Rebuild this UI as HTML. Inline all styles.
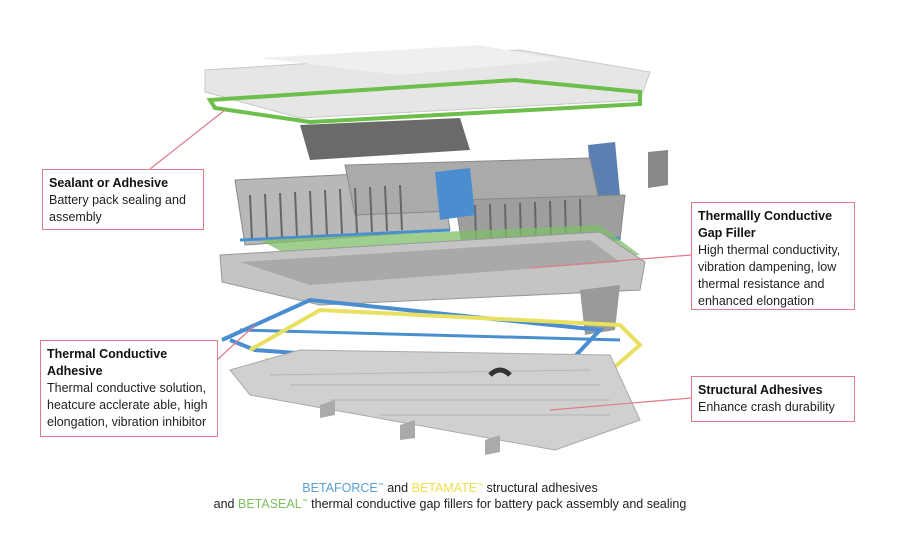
<!DOCTYPE html>
<html><head><meta charset="utf-8"><style>
body{margin:0;background:#fff;width:900px;height:550px;overflow:hidden;font-family:"Liberation Sans",sans-serif;}
.box{position:absolute;border:1.5px solid #e07a8c;background:#fff;padding:5px 6px;font-size:12.5px;line-height:17px;color:#222;box-sizing:border-box}
.box b{color:#111}
.cap{position:absolute;left:0;width:900px;text-align:center;font-size:12.5px;color:#222}
</style></head><body>
<svg width="900" height="550" style="position:absolute;left:0;top:0">
<!-- top cover -->
<polygon points="205,70 520,50 650,72 640,100 300,118 205,92" fill="#e6e6e6" stroke="#c8c8c8"/>
<polygon points="260,58 480,45 560,60 400,75" fill="#efefef"/>
<!-- green seal -->
<polygon points="210,100 515,80 640,92 640,104 310,122 215,108" fill="none" stroke="#6cbf4a" stroke-width="4"/>
<!-- BMS box -->
<polygon points="300,125 460,118 470,150 310,160" fill="#6a6a6a"/>
<polygon points="588,145 615,142 620,195 592,198" fill="#5a7fb0"/>
<polygon points="648,152 668,150 668,185 648,188" fill="#888"/>
<!-- modules -->
<polygon points="235,180 440,170 450,230 245,245" fill="#b8b8b8" stroke="#888"/>
<polygon points="345,165 590,158 600,205 355,215" fill="#aaa" stroke="#888"/>
<polygon points="455,200 625,195 620,240 462,245" fill="#9e9e9e" stroke="#888"/>
<g stroke="#666" stroke-width="2">
<line x1="250" y1="195" x2="252" y2="240"/><line x1="265" y1="194" x2="267" y2="239"/><line x1="280" y1="193" x2="282" y2="238"/><line x1="295" y1="192" x2="297" y2="237"/><line x1="310" y1="191" x2="312" y2="236"/><line x1="325" y1="190" x2="327" y2="235"/><line x1="340" y1="189" x2="342" y2="234"/><line x1="355" y1="188" x2="357" y2="233"/><line x1="370" y1="187" x2="372" y2="232"/><line x1="385" y1="186" x2="387" y2="231"/><line x1="400" y1="185" x2="402" y2="230"/>
<line x1="475" y1="205" x2="476" y2="240"/><line x1="490" y1="204" x2="491" y2="240"/><line x1="505" y1="204" x2="506" y2="240"/><line x1="520" y1="203" x2="521" y2="240"/><line x1="535" y1="202" x2="536" y2="240"/><line x1="550" y1="201" x2="551" y2="240"/><line x1="565" y1="200" x2="566" y2="240"/><line x1="580" y1="199" x2="581" y2="240"/></g>
<polygon points="435,172 470,168 475,215 440,220" fill="#4a8ed0"/>
<line x1="240" y1="240" x2="450" y2="230" stroke="#4a8ed0" stroke-width="3"/>
<line x1="460" y1="245" x2="620" y2="238" stroke="#4a8ed0" stroke-width="3"/>
<!-- green pad -->
<polygon points="260,240 600,225 640,255 320,272" fill="#7fbf6a" opacity=".75"/>
<!-- tray -->
<polygon points="220,255 600,232 645,262 640,290 320,305 222,282" fill="#c4c4c4" stroke="#999"/>
<polygon points="240,262 590,240 620,262 310,285" fill="#a9a9a9"/>
<polygon points="580,290 620,285 615,330 585,335" fill="#9a9a9a"/>
<!-- cooling -->
<polyline points="222,340 310,300 600,330 560,372 255,350 230,340" fill="none" stroke="#4a8ed0" stroke-width="4"/>
<polyline points="240,330 620,340" stroke="#4a8ed0" stroke-width="3" fill="none"/>
<polyline points="250,350 320,310 620,325 640,345 565,410 265,360" fill="none" stroke="#e8e060" stroke-width="4"/>
<!-- bottom plate -->
<polygon points="230,370 300,350 610,355 640,420 555,450 250,395" fill="#d0d0d0" stroke="#aaa"/>
<g stroke="#b5b5b5"><line x1="270" y1="375" x2="590" y2="370"/><line x1="290" y1="385" x2="600" y2="385"/><line x1="330" y1="400" x2="610" y2="400"/><line x1="380" y1="415" x2="610" y2="415"/></g>
<polygon points="320,405 335,400 335,415 320,418" fill="#aaa"/><polygon points="400,425 415,420 415,438 400,440" fill="#aaa"/><polygon points="485,440 500,435 500,452 485,455" fill="#aaa"/>
<path d="M490,375 q10,-10 20,0" stroke="#333" stroke-width="5" fill="none"/>
<!-- leader lines -->
<g stroke="#e07a8c" stroke-width="1.2">
<line x1="150" y1="169" x2="225" y2="110"/>
<line x1="217" y1="360" x2="255" y2="325"/>
<line x1="691" y1="255" x2="530" y2="268"/>
<line x1="691" y1="398" x2="550" y2="410"/>
</g>
</svg>
<div class="box" style="left:42px;top:169px;width:162px;height:61px"><b>Sealant or Adhesive</b><br>Battery pack sealing and assembly</div>
<div class="box" style="left:40px;top:340px;width:178px;height:97px"><b>Thermal Conductive Adhesive</b><br>Thermal conductive solution, heatcure acclerate able, high elongation, vibration inhibitor</div>
<div class="box" style="left:691px;top:202px;width:164px;height:108px"><b>Thermallly Conductive Gap Filler</b><br>High thermal conductivity, vibration dampening, low thermal resistance and enhanced elongation</div>
<div class="box" style="left:691px;top:376px;width:164px;height:46px"><b>Structural Adhesives</b><br>Enhance crash durability</div>
<div class="cap" style="top:481px"><span style="color:#5a9fd6">BETAFORCE<sup style="font-size:6px">™</sup></span> and <span style="color:#f0e050">BETAMATE<sup style="font-size:6px">™</sup></span> structural adhesives</div>
<div class="cap" style="top:497px">and <span style="color:#7cc060">BETASEAL<sup style="font-size:6px">™</sup></span> thermal conductive gap fillers for battery pack assembly and sealing</div>
</body></html>
